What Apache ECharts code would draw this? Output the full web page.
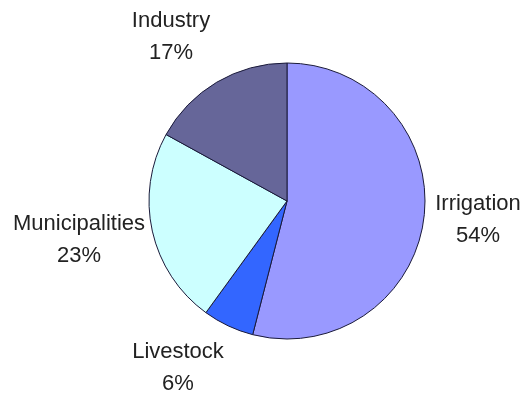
<!DOCTYPE html>
<html>
<head>
<meta charset="utf-8">
<script src="https://cdn.jsdelivr.net/npm/echarts@6/dist/echarts.min.js"></script>
<style>
html,body{margin:0;padding:0;background:#fff;}
#c{width:526px;height:397px;}
</style>
</head>
<body>
<div id="c"></div>
<script>
const categories = ['Irrigation', 'Livestock', 'Municipalities', 'Industry'];
const values = [54, 6, 23, 17];
const colors = ['#9999FF', '#3366FF', '#CCFFFF', '#666699'];
const labelSpots = [[478, 220], [178, 368], [79, 240], [171, 37]];

const chart = echarts.init(document.getElementById('c'), null, {renderer: 'canvas'});
chart.setOption({
  animation: false,
  backgroundColor: '#ffffff',
  series: [{
    type: 'pie',
    center: [287, 201],
    radius: 138,
    startAngle: 90,
    clockwise: true,
    avoidLabelOverlap: false,
    data: categories.map((c, i) => ({name: c, value: values[i], itemStyle: {color: colors[i]}})),
    itemStyle: {borderColor: '#1a1a3a', borderWidth: 1},
    label: {
      show: true,
      position: 'outside',
      formatter: '{b}\n{d}%',
      fontFamily: 'Liberation Sans, Arial, sans-serif',
      fontSize: 22,
      lineHeight: 32,
      color: '#222222',
      align: 'center'
    },
    labelLine: {show: false},
    labelLayout: function (p) {
      const s = labelSpots[p.dataIndex];
      return {x: s[0], y: s[1], align: 'center', verticalAlign: 'middle'};
    },
    emphasis: {disabled: true}
  }]
});
</script>
</body>
</html>
